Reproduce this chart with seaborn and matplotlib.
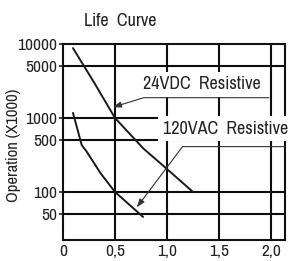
import matplotlib
matplotlib.use("Agg")
import matplotlib.pyplot as plt
import seaborn as sns
import pandas as pd

# Data
current_24vdc = [0.096, 0.3, 0.5, 0.77, 1.0, 1.25]
ops_24vdc = [8800, 3000, 1000, 390, 204, 100]

current_120vac = [0.096, 0.18, 0.23, 0.36, 0.5, 0.77]
ops_120vac = [1170, 430, 347, 180, 100, 46]

x_ticks = [0, 0.5, 1.0, 1.5, 2.0]
x_tick_labels = ["0", "0,5", "1,0", "1,5", "2,0"]
y_ticks = [50, 100, 500, 1000, 5000, 10000]
y_tick_labels = ["50", "100", "500", "1000", "5000", "10000"]


def build_frame():
    df_dc = pd.DataFrame({"Current": current_24vdc, "Operation": ops_24vdc, "Load": "24VDC Resistive"})
    df_ac = pd.DataFrame({"Current": current_120vac, "Operation": ops_120vac, "Load": "120VAC Resistive"})
    return pd.concat([df_dc, df_ac], ignore_index=True)


def plot_life_curve(df):
    sns.set_style("white")
    plt.rcParams["font.family"] = ["Archivo Narrow", "PT Sans Narrow", "Liberation Sans", "DejaVu Sans"]

    fig = plt.figure(figsize=(2.88, 2.61), dpi=100)
    ax = fig.add_axes([63 / 288, 1 - 240 / 261, 222 / 288, 196 / 261])

    sns.lineplot(data=df, x="Current", y="Operation", units="Load", estimator=None,
                 color="#1a1a1a", linewidth=1.4, sort=False, legend=False, ax=ax, zorder=3)

    ax.set_yscale("log")
    ax.set_xlim(0, 2.135)
    ax.set_ylim(22.4, 10000)

    # heavy grid
    for x in x_ticks[1:]:
        ax.axvline(x, color="#0d0d0d", linewidth=1.5, zorder=1)
    for y in y_ticks[:-1]:
        ax.axhline(y, color="#0d0d0d", linewidth=1.5, zorder=1)

    ax.set_xticks(x_ticks)
    ax.set_xticklabels(x_tick_labels, fontsize=12.5, color="#222222")
    ax.set_yticks(y_ticks)
    ax.set_yticklabels(y_tick_labels, fontsize=12.5, color="#222222")
    ax.minorticks_off()
    ax.tick_params(axis="y", length=3, width=1.2, pad=1, direction="out", left=True)
    ax.tick_params(axis="x", length=0, pad=3)
    for s in ax.spines.values():
        s.set_color("#111111")
        s.set_linewidth(1.5)

    ax.set_xlabel("")
    ax.set_ylabel("Operation (X1000)", fontsize=12, color="#222222")
    ax.yaxis.set_label_coords(-0.19, 0.485)

    fig.text(84 / 288, 1 - 21 / 261, "Life  Curve", fontsize=13, color="#222222",
             ha="left", va="center")

    box = dict(boxstyle="square,pad=0.25", facecolor="white", edgecolor="none")

    # 24VDC label and leader
    ax.text(1.34, 2850, "24VDC  Resistive", fontsize=13, color="#222222",
            ha="center", va="center", bbox=box, zorder=4)
    ax.annotate("", xy=(0.48, 1400), xytext=(1.98, 1880),
                arrowprops=dict(arrowstyle="-|>,head_length=0.5,head_width=0.18",
                                connectionstyle="angle,angleA=0,angleB=17,rad=0",
                                color="#333333", linewidth=0.8, shrinkA=0, shrinkB=0),
                zorder=5)

    # 120VAC label and leader
    ax.text(0.96, 720, "120VAC  Resistive", fontsize=13, color="#222222",
            ha="left", va="center", bbox=box, zorder=4)
    ax.annotate("", xy=(0.71, 62), xytext=(2.13, 410),
                arrowprops=dict(arrowstyle="-|>,head_length=0.5,head_width=0.18",
                                connectionstyle="angle,angleA=0,angleB=53,rad=0",
                                color="#333333", linewidth=0.8, shrinkA=0, shrinkB=0),
                zorder=5)

    fig.savefig("out.png", dpi=100)


def main():
    df = build_frame()
    plot_life_curve(df)


if __name__ == "__main__":
    main()
